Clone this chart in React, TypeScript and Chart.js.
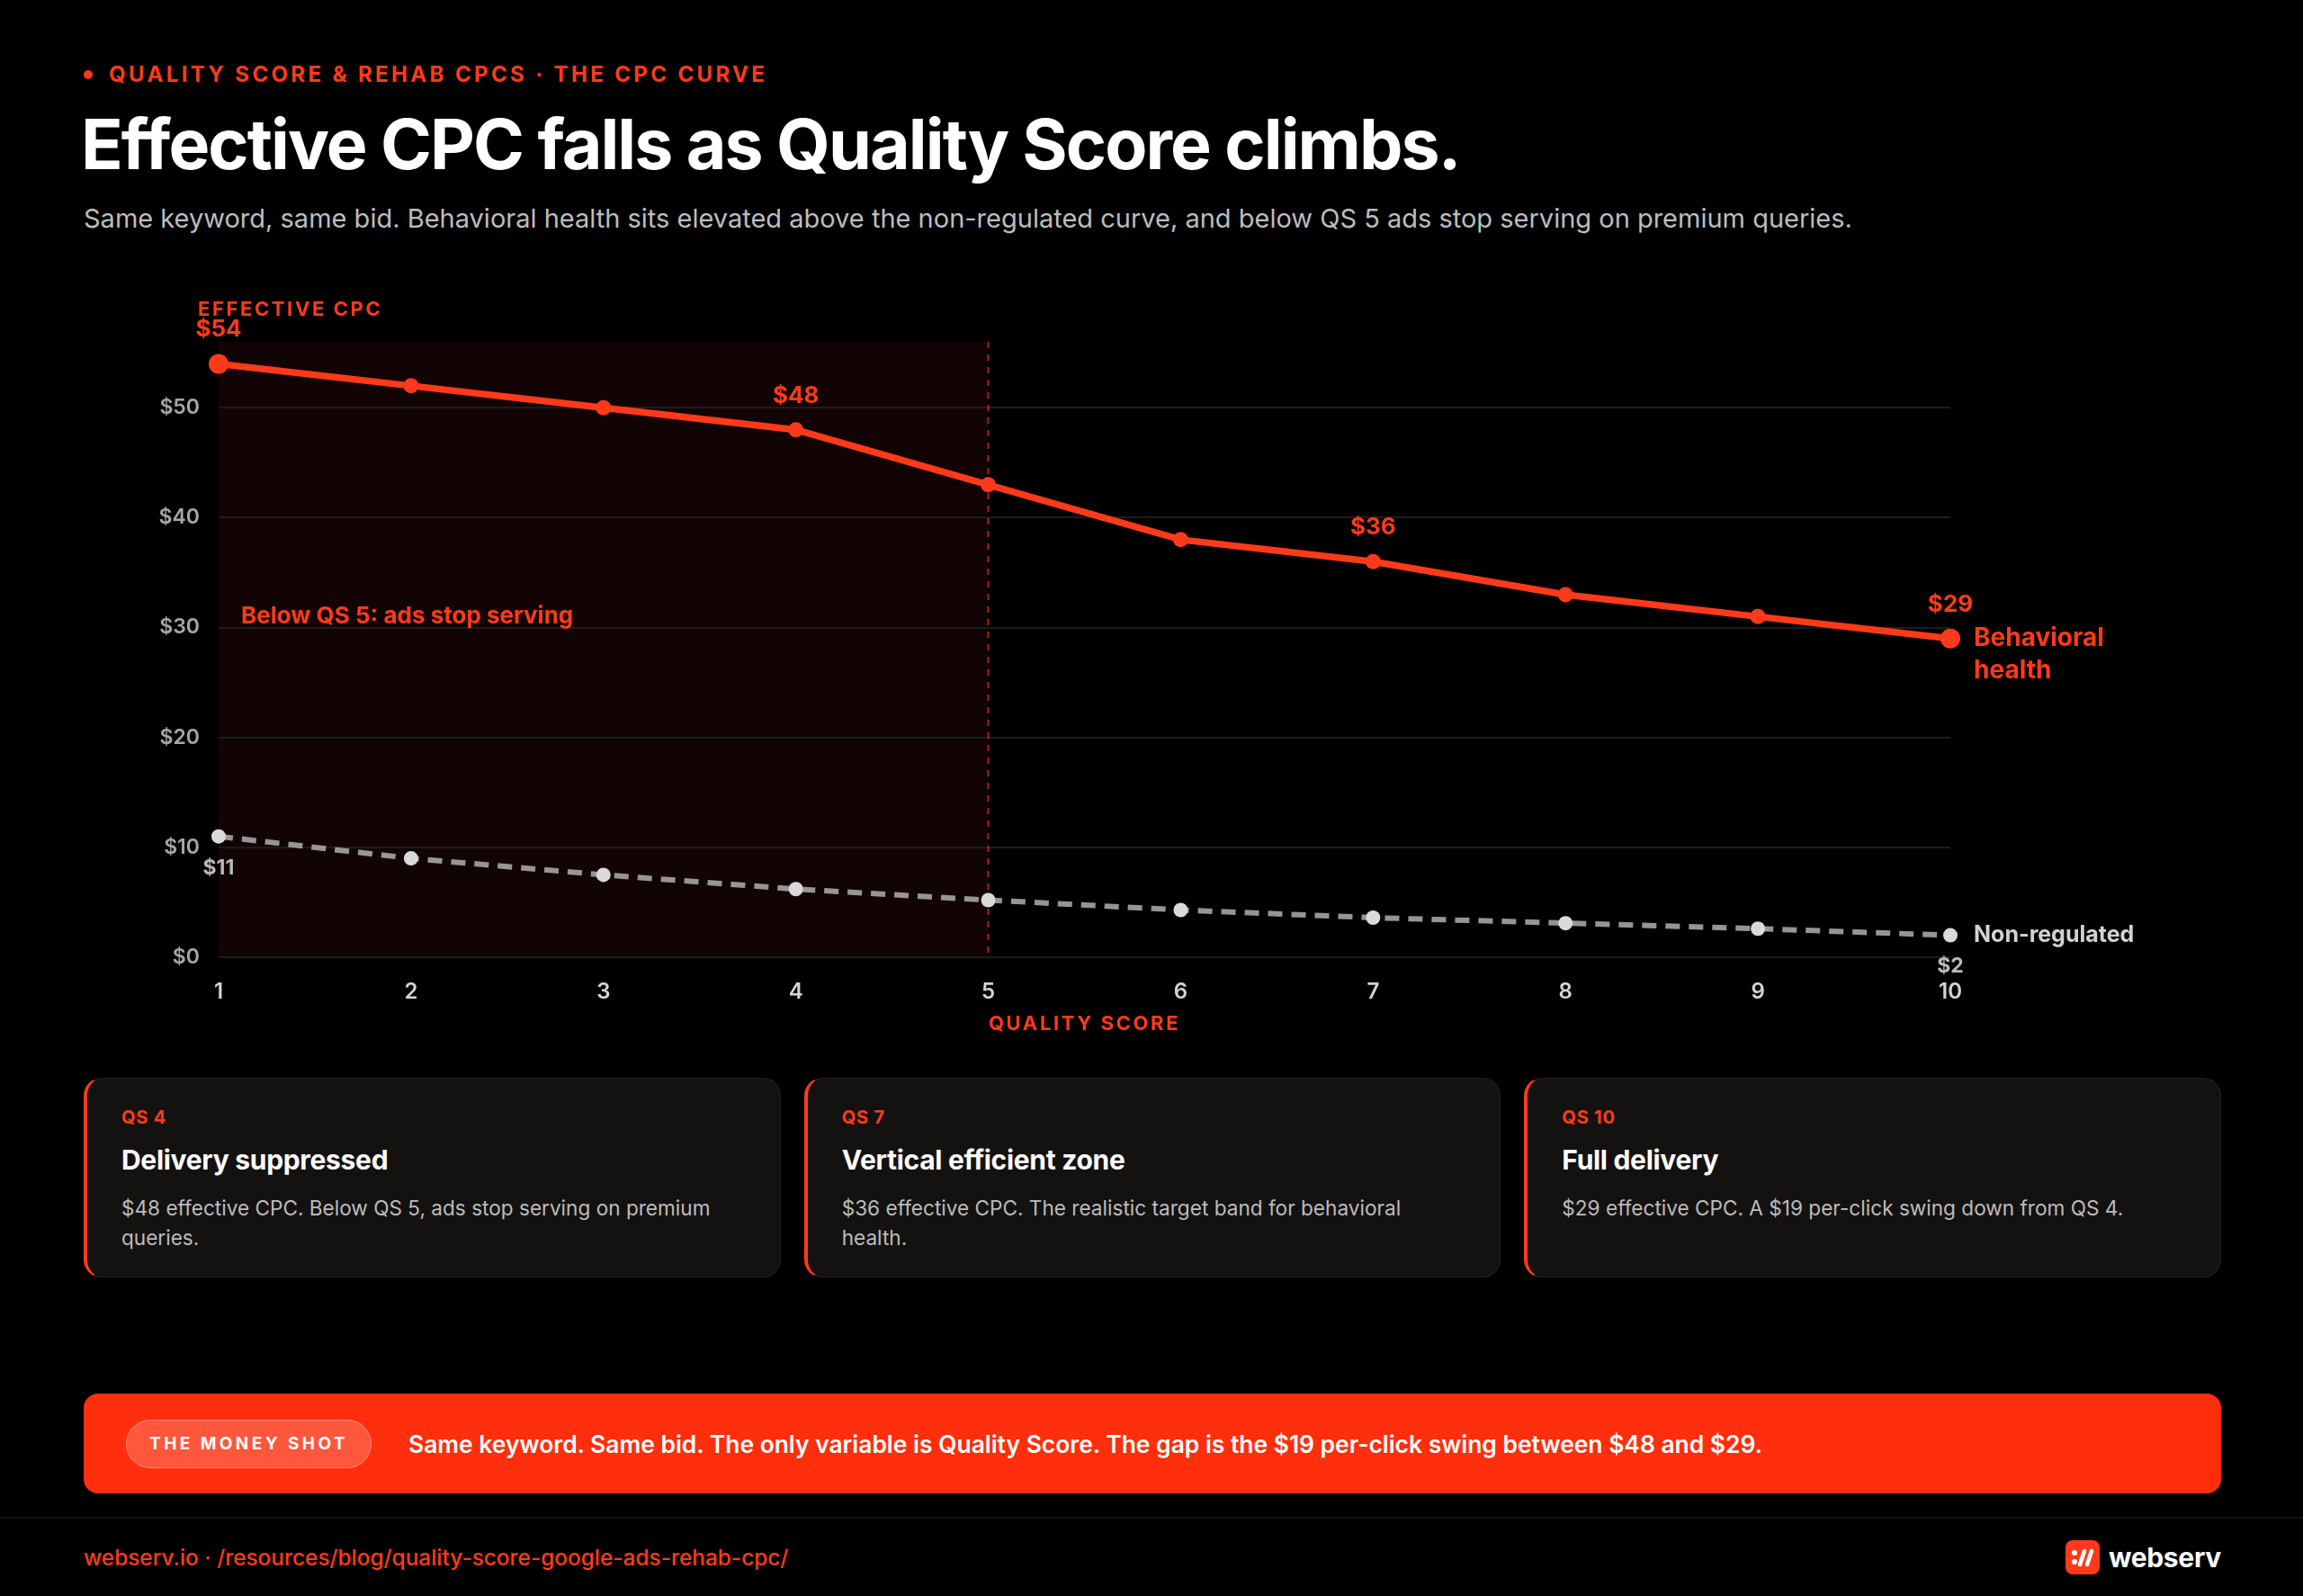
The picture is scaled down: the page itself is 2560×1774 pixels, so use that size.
import React, { useEffect, useRef } from "react";
import { Chart, registerables } from "chart.js";

Chart.register(...registerables);

// ---- Data ----
const qualityScores = ["1", "2", "3", "4", "5", "6", "7", "8", "9", "10"];
const behavioralHealthCpc = [54, 52, 50, 48, 43, 38, 36, 33, 31, 29];
const nonRegulatedCpc = [11, 9, 7.5, 6.2, 5.2, 4.3, 3.6, 3.1, 2.6, 2];
const behavioralLabeledIdx = [0, 3, 6, 9];
const nonRegulatedLabeledIdx = [0, 9];
const yAxisMax = 56;
const yTickStep = 10;
const servingThresholdQs = 5;

const cardTags = ["QS 4", "QS 7", "QS 10"];
const cardTitles = ["Delivery suppressed", "Vertical efficient zone", "Full delivery"];
const cardBodies = [
  "$48 effective CPC. Below QS 5, ads stop serving on premium queries.",
  "$36 effective CPC. The realistic target band for behavioral health.",
  "$29 effective CPC. A $19 per-click swing down from QS 4.",
];

// ---- Styling ----
const RED = "#ff3a1a";
const FONT = "Inter, 'Liberation Sans', Arial, sans-serif";

const annotationPlugin = {
  id: "cpcAnnotations",
  beforeDraw(chart: any) {
    const { ctx, chartArea, scales } = chart;
    const x = scales.x;
    const left = x.getPixelForValue(0);
    const right = x.getPixelForValue(servingThresholdQs - 1);
    ctx.save();
    ctx.fillStyle = "#120404";
    ctx.fillRect(left, chartArea.top, right - left, chartArea.bottom - chartArea.top);
    ctx.restore();
  },
  beforeDatasetsDraw(chart: any) {
    const { ctx, chartArea, scales } = chart;
    const x = scales.x;
    const y = scales.y;
    const xt = x.getPixelForValue(servingThresholdQs - 1);
    ctx.save();
    ctx.strokeStyle = "rgba(255,58,26,0.65)";
    ctx.lineWidth = 2;
    ctx.setLineDash([7, 7]);
    ctx.beginPath();
    ctx.moveTo(xt, chartArea.top);
    ctx.lineTo(xt, chartArea.bottom);
    ctx.stroke();
    ctx.setLineDash([]);

    ctx.fillStyle = RED;
    ctx.font = `700 26px ${FONT}`;
    ctx.textAlign = "left";
    ctx.textBaseline = "middle";
    ctx.fillText("Below QS 5: ads stop serving", x.getPixelForValue(0) + 25, y.getPixelForValue(31));
    ctx.restore();
  },
  afterDatasetsDraw(chart: any) {
    const { ctx, chartArea, scales } = chart;
    const x = scales.x;
    const y = scales.y;
    ctx.save();
    ctx.textBaseline = "middle";

    // value callouts on the behavioral health curve
    ctx.fillStyle = RED;
    ctx.font = `700 26px ${FONT}`;
    ctx.textAlign = "center";
    behavioralLabeledIdx.forEach((i) => {
      const px = x.getPixelForValue(i);
      const py = y.getPixelForValue(behavioralHealthCpc[i]);
      ctx.fillText("$" + behavioralHealthCpc[i], px, py - 38);
    });

    // value callouts on the non-regulated curve
    ctx.fillStyle = "#b9b9b9";
    ctx.font = `700 23px ${FONT}`;
    nonRegulatedLabeledIdx.forEach((i) => {
      const px = x.getPixelForValue(i);
      const py = y.getPixelForValue(nonRegulatedCpc[i]);
      ctx.fillText("$" + nonRegulatedCpc[i], px, py + 35);
    });

    // series names at the line ends
    const last = qualityScores.length - 1;
    const endX = x.getPixelForValue(last) + 26;
    ctx.textAlign = "left";
    ctx.fillStyle = RED;
    ctx.font = `700 28px ${FONT}`;
    const bhY = y.getPixelForValue(behavioralHealthCpc[last]);
    ctx.fillText("Behavioral", endX, bhY);
    ctx.fillText("health", endX, bhY + 36);

    ctx.fillStyle = "#d2d2d2";
    ctx.font = `700 25px ${FONT}`;
    ctx.fillText("Non-regulated", endX, y.getPixelForValue(nonRegulatedCpc[last]));

    // axis titles
    ctx.fillStyle = RED;
    ctx.font = `700 22px ${FONT}`;
    (ctx as any).letterSpacing = "2.6px";
    ctx.textAlign = "left";
    ctx.fillText("EFFECTIVE CPC", chartArea.left - 23, chartArea.top - 36);
    ctx.textAlign = "center";
    ctx.fillText("QUALITY SCORE", (chartArea.left + chartArea.right) / 2, chartArea.bottom + 74);
    (ctx as any).letterSpacing = "0px";
    ctx.restore();
  },
};

function CpcChart() {
  const canvasRef = useRef<HTMLCanvasElement | null>(null);

  useEffect(() => {
    if (!canvasRef.current) return;
    const chart = new Chart(canvasRef.current, {
      type: "line",
      data: {
        labels: qualityScores,
        datasets: [
          {
            label: "Non-regulated",
            data: nonRegulatedCpc,
            borderColor: "rgba(175,175,175,0.85)",
            borderWidth: 6,
            borderDash: [16, 10],
            pointRadius: 8,
            pointBackgroundColor: "#dadada",
            pointBorderColor: "rgba(0,0,0,0)",
            pointBorderWidth: 0,
            tension: 0,
          },
          {
            label: "Behavioral health",
            data: behavioralHealthCpc,
            borderColor: RED,
            backgroundColor: RED,
            borderWidth: 7.5,
            pointRadius: (c: any) =>
              c.dataIndex === 0 || c.dataIndex === qualityScores.length - 1 ? 11 : 8.5,
            pointBackgroundColor: RED,
            pointBorderWidth: 0,
            tension: 0,
          },
        ],
      },
      options: {
        animation: false,
        responsive: true,
        maintainAspectRatio: false,
        layout: { padding: { left: 0, right: 392, top: 80, bottom: 0 } },
        plugins: {
          legend: { display: false },
          tooltip: { enabled: false },
        },
        scales: {
          x: {
            offset: false,
            grid: { display: false, drawTicks: false },
            border: { display: false },
            ticks: {
              color: "#d4d4d4",
              font: { family: FONT, size: 24, weight: "600" },
              padding: 24,
              maxRotation: 0,
            },
            afterFit: (s: any) => {
              s.height = 96;
            },
          },
          y: {
            min: 0,
            max: yAxisMax,
            grid: { color: "#1d1d1d", lineWidth: 2, drawTicks: false },
            border: { display: false },
            ticks: {
              stepSize: yTickStep,
              color: "#a6a6a6",
              font: { family: FONT, size: 23, weight: "600" },
              padding: 21,
              callback: (v: any) => "$" + v,
            },
            afterBuildTicks: (s: any) => {
              s.ticks = s.ticks.filter((t: any) => t.value % yTickStep === 0);
            },
            afterFit: (s: any) => {
              s.width = 243;
            },
          },
        },
      },
      plugins: [annotationPlugin],
    } as any);
    return () => chart.destroy();
  }, []);

  return (
    <div style={{ position: "absolute", left: 0, top: 300, width: 2560, height: 860 }}>
      <canvas ref={canvasRef} />
    </div>
  );
}

function Card({ tag, title, body }: { tag: string; title: string; body: string }) {
  return (
    <div
      style={{
        flex: 1,
        boxSizing: "border-box",
        height: 222,
        background: "#141211",
        border: "1px solid #242120",
        borderLeft: `4px solid ${RED}`,
        borderRadius: 20,
        padding: "31px 40px 0 38px",
      }}
    >
      <div style={{ color: RED, fontSize: 20, fontWeight: 700, lineHeight: "24px", letterSpacing: "0.04em" }}>{tag}</div>
      <div style={{ color: "#fff", fontSize: 30, fontWeight: 700, lineHeight: "36px", marginTop: 17, letterSpacing: "-0.01em" }}>
        {title}
      </div>
      <div style={{ color: "#bcbcbc", fontSize: 22.6, lineHeight: "33px", marginTop: 19, maxWidth: 680 }}>{body}</div>
    </div>
  );
}

export default function App() {
  return (
    <div
      style={{
        position: "absolute",
        left: 0,
        top: 0,
        width: 2560,
        height: 1774,
        background: "#000",
        fontFamily: FONT,
        overflow: "hidden",
      }}
    >
      {/* eyebrow */}
      <div style={{ position: "absolute", left: 93, top: 78, width: 10, height: 10, borderRadius: 5, background: RED }} />
      <div
        style={{
          position: "absolute",
          left: 121,
          top: 71,
          color: RED,
          fontSize: 24,
          lineHeight: "24px",
          fontWeight: 700,
          letterSpacing: "0.14em",
          whiteSpace: "nowrap",
        }}
      >
        QUALITY SCORE &amp; REHAB CPCS · THE CPC CURVE
      </div>

      {/* headline */}
      <div
        style={{
          position: "absolute",
          left: 90,
          top: 120,
          color: "#fff",
          fontSize: 77,
          lineHeight: "80px",
          fontWeight: 700,
          letterSpacing: "-0.025em",
          whiteSpace: "nowrap",
        }}
      >
        Effective CPC falls as Quality Score climbs.
      </div>
      <div
        style={{
          position: "absolute",
          left: 93,
          top: 226,
          color: "#bdbdbd",
          fontSize: 29,
          lineHeight: "34px",
          whiteSpace: "nowrap",
        }}
      >
        Same keyword, same bid. Behavioral health sits elevated above the non-regulated curve, and below QS 5 ads stop serving on premium queries.
      </div>

      <CpcChart />

      {/* takeaway cards */}
      <div style={{ position: "absolute", left: 93, top: 1198, width: 2376, display: "flex", gap: 26 }}>
        {cardTags.map((t, i) => (
          <Card key={t} tag={t} title={cardTitles[i]} body={cardBodies[i]} />
        ))}
      </div>

      {/* money shot banner */}
      <div
        style={{
          position: "absolute",
          left: 93,
          top: 1549,
          width: 2376,
          height: 111,
          background: "#ff2e0c",
          borderRadius: 16,
          display: "flex",
          alignItems: "center",
        }}
      >
        <div
          style={{
            marginLeft: 47,
            width: 273,
            height: 54,
            boxSizing: "border-box",
            borderRadius: 27,
            background: "rgba(255,255,255,0.2)",
            border: "1.5px solid rgba(255,255,255,0.3)",
            display: "flex",
            alignItems: "center",
            justifyContent: "center",
            color: "#fff",
            fontSize: 19,
            fontWeight: 700,
            letterSpacing: "0.18em",
          }}
        >
          THE MONEY SHOT
        </div>
        <div style={{ marginLeft: 41, color: "#fff", fontSize: 26.4, fontWeight: 600, whiteSpace: "nowrap" }}>
          Same keyword. Same bid. The only variable is Quality Score. The gap is the $19 per-click swing between $48 and $29.
        </div>
      </div>

      {/* footer */}
      <div style={{ position: "absolute", left: 0, top: 1686, width: 2560, height: 2, background: "#151515" }} />
      <div
        style={{
          position: "absolute",
          left: 93,
          top: 1716,
          color: "#ff3a1a",
          fontSize: 24.4,
          lineHeight: "30px",
          fontWeight: 500,
          whiteSpace: "nowrap",
        }}
      >
        webserv.io · /resources/blog/quality-score-google-ads-rehab-cpc/
      </div>
      <div
        style={{
          position: "absolute",
          right: 2560 - 2469,
          top: 1711,
          height: 40,
          display: "flex",
          alignItems: "center",
          gap: 10,
        }}
      >
        <svg width="38" height="38" viewBox="0 0 38 38">
          <rect x="0" y="0" width="38" height="38" rx="8" fill={RED} />
          <circle cx="10" cy="14" r="3" fill="#fff" />
          <circle cx="10" cy="24" r="3" fill="#fff" />
          <path d="M16 27 L21 12" stroke="#fff" strokeWidth="4.5" strokeLinecap="round" />
          <path d="M24 27 L29 12" stroke="#fff" strokeWidth="4.5" strokeLinecap="round" />
        </svg>
        <div style={{ color: "#fff", fontSize: 30, fontWeight: 700, letterSpacing: "-0.01em" }}>webserv</div>
      </div>
    </div>
  );
}
